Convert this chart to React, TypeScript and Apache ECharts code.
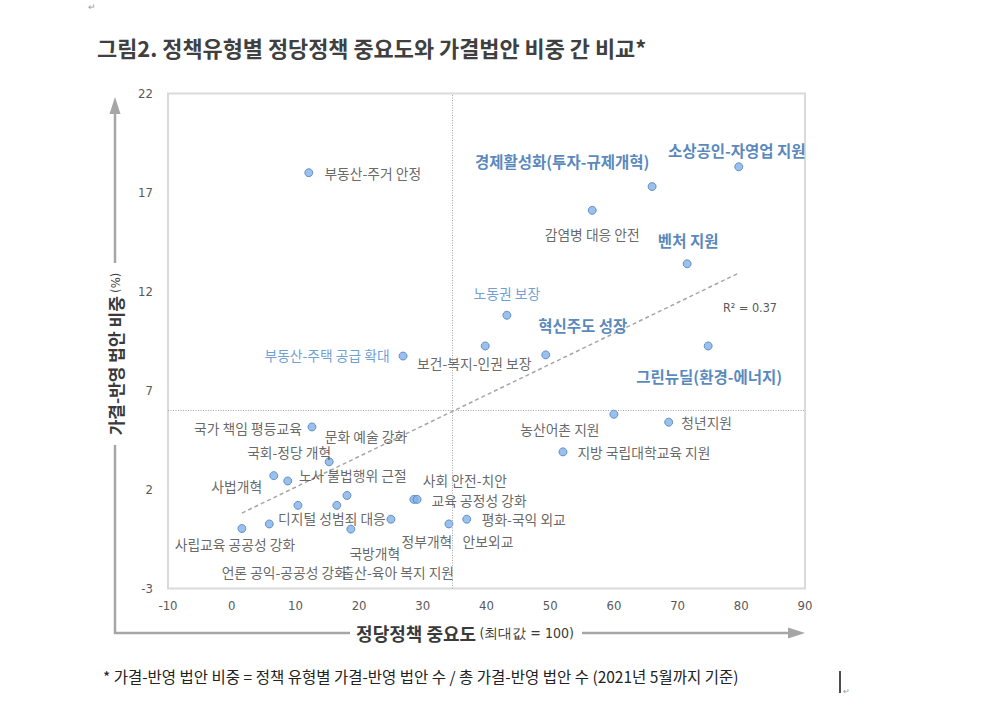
import React, { useEffect, useRef } from "react";
import * as echarts from "echarts";

// ---------- data ----------
const policies = [
  "부동산-주거 안정",
  "소상공인-자영업 지원",
  "경제활성화(투자-규제개혁)",
  "감염병 대응 안전",
  "벤처 지원",
  "노동권 보장",
  "혁신주도 성장",
  "보건-복지-인권 보장",
  "그린뉴딜(환경-에너지)",
  "부동산-주택 공급 확대",
  "농산어촌 지원",
  "청년지원",
  "지방 국립대학교육 지원",
  "평화-국익 외교",
  "정부개혁",
  "국가 책임 평등교육",
  "국회-정당 개혁",
  "사법개혁",
  "노사 불법행위 근절",
  "문화 예술 강화",
  "사회 안전-치안",
  "교육 공정성 강화",
  "디지털 성범죄 대응",
  "국방개혁",
  "사립교육 공공성 강화",
  "언론 공익-공공성 강화",
  "출산-육아 복지 지원",
  "안보외교",
];
// 정당정책 중요도 (최대값 = 100)
const importance = [
  12.1, 79.6, 66.0, 56.6, 71.5, 43.2, 49.3, 39.8, 74.8, 26.9, 60.0, 68.6, 52.0, 36.9,
  34.1, 12.6, 15.3, 6.6, 8.8, 18.1, 28.6, 29.1, 25.0, 18.7, 1.6, 5.9, 16.5, 10.4,
];
// 가결-반영 법안 비중 (%)
const share = [
  18.0, 18.3, 17.3, 16.1, 13.4, 10.8, 8.8, 9.25, 9.25, 8.74, 5.8, 5.4, 3.9, 0.5,
  0.26, 5.16, 3.4, 2.7, 2.43, 1.7, 1.5, 1.5, 0.5, 0.0, 0.03, 0.26, 1.2, 1.2,
];
const trendLine = [
  [1.6, 0.81],
  [79.6, 12.93],
];
const meanImportance = 34.7;
const meanShare = 6.0;
const rSquaredText = "R² = 0.37";
const xAxisRange = { min: -10, max: 90, interval: 10 };
const yAxisRange = { min: -3, max: 22, interval: 5 };

// ---------- label layout (pixel offsets from each point) & styles ----------
const labelOffsets: [number, number][] = [
  [64, 0], [-2, -17], [-90, -26], [0, 24], [1, -24], [0, -22], [37, -30], [-11, 17],
  [1, 30], [-76, -1], [-54, 15], [38, 0], [81, 0], [57, 0], [-22, 17], [-64, 1],
  [-40, -10], [-37, 10], [65, -6], [19, -59], [51, -19], [62, 1], [-59, -1], [24, 24],
  [-7, 15], [15, 48], [61, 67], [190, 36],
];
const labelKinds = [
  "n", "b", "b", "n", "b", "l", "b", "n", "b", "l", "n", "n", "n", "n", "n", "n",
  "n", "n", "n", "n", "n", "n", "n", "n", "n", "n", "n", "n",
];

const KFONT = "'Noto Sans CJK KR', 'Noto Sans', sans-serif";
const NFONT = "'Liberation Sans Narrow', 'DejaVu Sans Condensed', 'Liberation Sans', sans-serif";

const kindStyle: Record<string, any> = {
  n: { color: "#404040", fontSize: 13.8, fontWeight: "normal" },
  b: { color: "#2d68ad", fontSize: 15.5, fontWeight: "bold" },
  l: { color: "#4a86c8", fontSize: 13.8, fontWeight: "normal" },
};

export default function App() {
  const ref = useRef<HTMLDivElement>(null);
  useEffect(() => {
    document.body.style.margin = "0";
    if (!ref.current) return;
    const chart = echarts.init(ref.current, null, { renderer: "svg" });

    const points = policies.map((name, i) => ({
      name,
      value: [importance[i], share[i]],
      label: {
        show: true,
        formatter: name,
        position: "inside",
        offset: labelOffsets[i],
        align: "center",
        verticalAlign: "middle",
        fontFamily: KFONT,
        ...kindStyle[labelKinds[i]],
      },
    }));

    const arrowColor = "#a6a6a6";

    chart.setOption({
      animation: false,
      backgroundColor: "#ffffff",
      grid: {
        left: 168,
        right: 195,
        top: 93.5,
        bottom: 130.5,
        show: true,
        borderColor: "#dadada",
        borderWidth: 2,
        backgroundColor: "transparent",
      },
      xAxis: {
        type: "value",
        ...xAxisRange,
        axisLine: { show: false },
        axisTick: { show: false },
        splitLine: { show: false },
        axisLabel: { color: "#595959", fontSize: 13, fontFamily: NFONT, margin: 10 },
      },
      yAxis: {
        type: "value",
        ...yAxisRange,
        axisLine: { show: false },
        axisTick: { show: false },
        splitLine: { show: false },
        axisLabel: { color: "#595959", fontSize: 13, fontFamily: NFONT, margin: 15 },
      },
      series: [
        {
          type: "line",
          data: trendLine,
          symbol: "none",
          silent: true,
          z: 1,
          lineStyle: { color: "#a6a6a6", width: 1.5, type: [4, 3] },
        },
        {
          type: "scatter",
          data: points,
          symbol: "circle",
          symbolSize: 8,
          z: 3,
          itemStyle: { color: "#82b0e6", borderColor: "#4a7fc1", borderWidth: 1 },
          markLine: {
            silent: true,
            symbol: "none",
            label: { show: false },
            lineStyle: { color: "#a6a6a6", width: 1, type: [1, 1.5] },
            data: [{ xAxis: meanImportance }, { yAxis: meanShare }],
          },
        },
      ],
      graphic: [
        {
          type: "text",
          style: {
            text: "그림2. 정책유형별 정당정책 중요도와 가결법안 비중 간 비교*",
            x: 97,
            y: 47,
            fill: "#404040",
            font: `bold 21.9px ${KFONT}`,
            textVerticalAlign: "middle",
          },
        },
        {
          type: "text",
          style: {
            text: "* 가결-반영 법안 비중 = 정책 유형별 가결-반영 법안 수 / 총 가결-반영 법안 수 (2021년 5월까지 기준)",
            x: 103,
            y: 676,
            fill: "#222222",
            font: `15.5px ${KFONT}`,
            textVerticalAlign: "middle",
          },
        },
        // y-axis arrow
        {
          type: "line",
          shape: { x1: 115, y1: 112, x2: 115, y2: 263 },
          style: { stroke: arrowColor, lineWidth: 2.5 },
        },
        {
          type: "polygon",
          shape: { points: [[115, 97], [109.5, 114], [120.5, 114]] },
          style: { fill: arrowColor },
        },
        {
          type: "polyline",
          shape: { points: [[115, 445], [115, 633], [350, 633]] },
          style: { stroke: arrowColor, lineWidth: 2.5, fill: null },
        },
        {
          type: "line",
          shape: { x1: 582, y1: 633, x2: 790, y2: 633 },
          style: { stroke: arrowColor, lineWidth: 2.5 },
        },
        {
          type: "polygon",
          shape: { points: [[805, 633], [788, 627.5], [788, 638.5]] },
          style: { fill: arrowColor },
        },
        {
          type: "text",
          x: 115,
          y: 354,
          rotation: Math.PI / 2,
          style: {
            text: "{b|가결-반영 법안 비중} {s|(%)}",
            x: 0,
            y: 0,
            textAlign: "center",
            textVerticalAlign: "middle",
            rich: {
              b: { fontSize: 17, fontWeight: "bold", fill: "#3a3a3a", fontFamily: KFONT },
              s: { fontSize: 13, fill: "#3a3a3a", fontFamily: NFONT },
            },
          },
        },
        {
          type: "text",
          style: {
            text: "{b|정당정책 중요도} {s|(최대값 = 100)}",
            x: 465,
            y: 633,
            textAlign: "center",
            textVerticalAlign: "middle",
            rich: {
              b: { fontSize: 18, fontWeight: "bold", fill: "#3a3a3a", fontFamily: KFONT },
              s: { fontSize: 14, fill: "#3a3a3a", fontFamily: NFONT },
            },
          },
        },
        {
          type: "text",
          style: {
            text: rSquaredText,
            x: 750,
            y: 307,
            textAlign: "center",
            textVerticalAlign: "middle",
            fill: "#595959",
            font: `12.5px ${NFONT}`,
          },
        },
        // document marks
        {
          type: "text",
          style: { text: "↵", x: 88, y: 6, fill: "#9a9a9a", font: `9px ${KFONT}`, textVerticalAlign: "middle" },
        },
        {
          type: "line",
          shape: { x1: 840, y1: 671, x2: 840, y2: 693 },
          style: { stroke: "#111111", lineWidth: 1.5 },
        },
        {
          type: "text",
          style: { text: "↵", x: 843, y: 690, fill: "#9a9a9a", font: `8px ${KFONT}`, textVerticalAlign: "middle" },
        },
      ],
    });
    return () => chart.dispose();
  }, []);
  return <div ref={ref} style={{ width: 1000, height: 719 }} />;
}
